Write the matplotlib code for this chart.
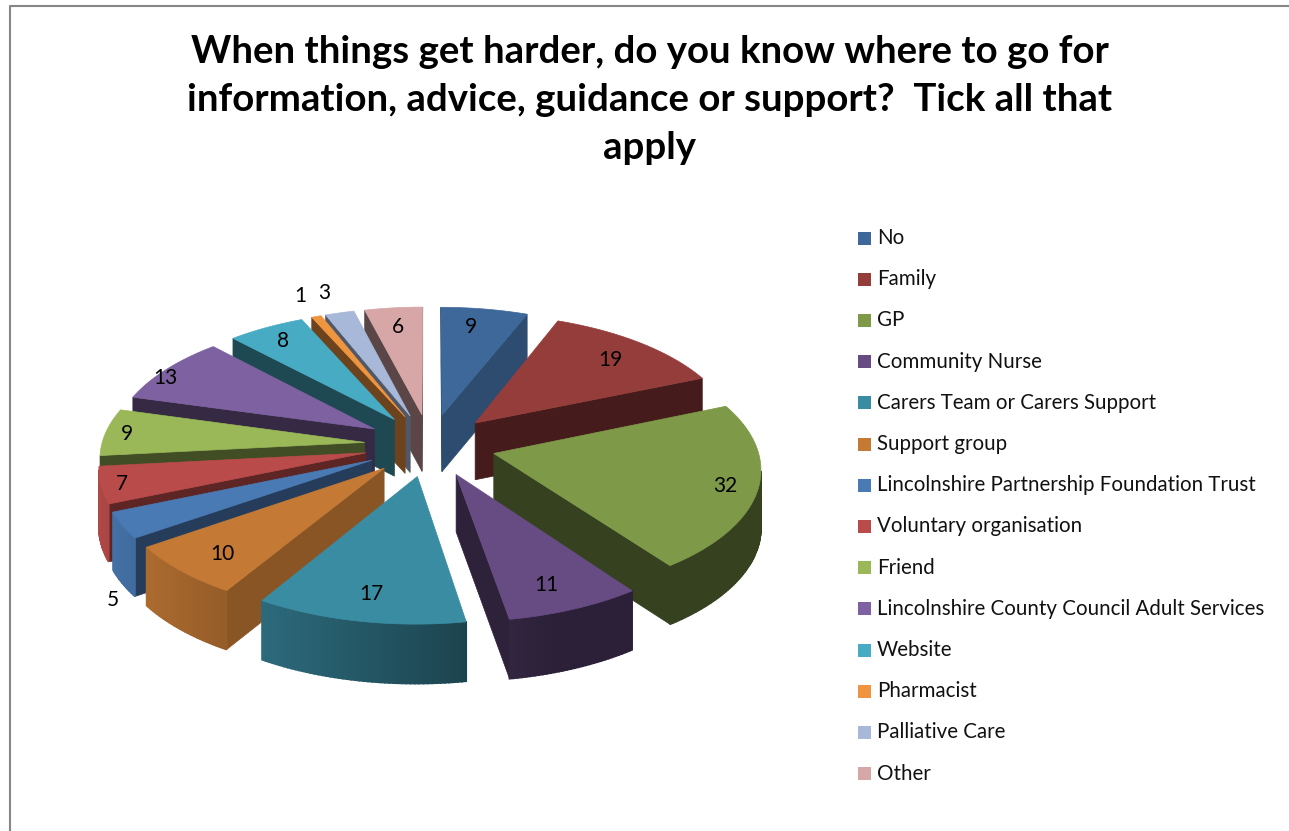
# exploded 3D pie with a legend on the right
import numpy as np
from matplotlib import pyplot as plt
from matplotlib.patches import Polygon, Rectangle

plt.rcParams['font.family'] = ['Lato', 'DejaVu Sans']

title = "When things get harder, do you know where to go for\ninformation, advice, guidance or support?  Tick all that\napply"

categories = ["No", "Family", "GP", "Community Nurse", "Carers Team or Carers Support",
              "Support group", "Lincolnshire Partnership Foundation Trust",
              "Voluntary organisation", "Friend",
              "Lincolnshire County Council Adult Services", "Website",
              "Pharmacist", "Palliative Care", "Other"]
values = [9, 19, 32, 11, 17, 10, 5, 7, 9, 13, 8, 1, 3, 6]

top_colors = ["#3d6899", "#953d3b", "#7e9a49", "#674c84", "#3a8ca3", "#c47a35", "#4a7ab4",
              "#b94c4a", "#9ab858", "#7e61a0", "#47abc4", "#f0953f", "#a7b8d8", "#d7a6a6"]
cut_shade = [0.73, 0.46, 0.42, 0.45, 0.47, 0.70, 0.50, 0.50, 0.42, 0.42, 0.42, 0.45, 0.48, 0.42]

# label shifts in pixels, the small slices sit outside the pie
label_shift = [(-8, 3), (-7, 6), (8, 3), (-9, -2), (3, -3), (9, 0), (-49, 85), (-20, 4),
               (-18, 0), (-31, 0), (-1, 0), (-28, -34), (-25, -34), (0, 4)]

# pie geometry in pixels
cx, cy = 430, 445
rx, ry = 263, 125
persp = 0.105
explode = 0.25
depth = 57


def project(u, v):
    d = 1 + persp * v
    return cx + rx * u / d, cy - ry * v / d, d


def wall_color(color, shade):
    rgb = np.array(plt.matplotlib.colors.to_rgb(color))
    return tuple(rgb * shade)


fig = plt.figure(figsize=(12.89, 8.31), dpi=100)
ax = fig.add_axes([0, 0, 1, 1])
ax.set_xlim(0, 1289)
ax.set_ylim(831, 0)
ax.axis('off')

# chart frame
ax.plot([10, 10, 1289], [831, 6, 6], color="#868686", lw=1.5)

ax.text(650, 100, title, ha='center', va='center', fontsize=27.6, fontweight='bold',
        color='black', linespacing=1.5)

edges = np.cumsum([0] + values) / sum(values) * 2 * np.pi
mids = (edges[:-1] + edges[1:]) / 2

# back slices first so the front ones cover them
for i in np.argsort(-np.cos(mids)):
    ex, ey = explode * np.sin(mids[i]), explode * np.cos(mids[i])
    theta = np.linspace(edges[i], edges[i + 1], max(int(values[i] * 3), 6))
    us = np.concatenate([[ex], ex + np.sin(theta)])
    vs = np.concatenate([[ey], ey + np.cos(theta)])
    xs, ys, ds = project(us, vs)
    bottom = ys + depth / ds ** 0.3

    # walls: an edge running leftwards on screen faces the viewer
    n = len(xs)
    for a in [0, n - 1]:
        b = (a + 1) % n
        if xs[b] < xs[a]:
            quad = [(xs[a], ys[a]), (xs[b], ys[b]), (xs[b], bottom[b]), (xs[a], bottom[a])]
            col = wall_color(top_colors[i], cut_shade[i])
            ax.add_patch(Polygon(quad, closed=True, fc=col, ec=col, lw=0.5))
    for a in range(1, n - 1):
        b = a + 1
        if xs[b] < xs[a]:
            shade = np.clip(0.55 - 0.4 * np.sin((theta[a - 1] + theta[b - 1]) / 2), 0.42, 0.95)
            col = wall_color(top_colors[i], shade)
            quad = [(xs[a], ys[a]), (xs[b], ys[b]), (xs[b], bottom[b]), (xs[a], bottom[a])]
            ax.add_patch(Polygon(quad, closed=True, fc=col, ec=col, lw=1.2))

    ax.add_patch(Polygon(np.column_stack([xs, ys]), closed=True, fc=top_colors[i],
                         ec=top_colors[i], lw=0.5))

# value labels
for i in range(len(values)):
    r = explode + 0.85
    lx, ly, _ = project(r * np.sin(mids[i]), r * np.cos(mids[i]))
    ax.text(lx + label_shift[i][0], ly + label_shift[i][1], str(values[i]), ha='center',
            va='center', fontsize=15, color='black', zorder=10)

# legend
for i, name in enumerate(categories):
    y = 238 + i * 41.2
    ax.add_patch(Rectangle((858, y - 6.5), 13, 13, fc=top_colors[i], ec='none'))
    ax.text(877, y, name, ha='left', va='center', fontsize=14.8, color='#111111')

plt.savefig("out.png", dpi=100)
